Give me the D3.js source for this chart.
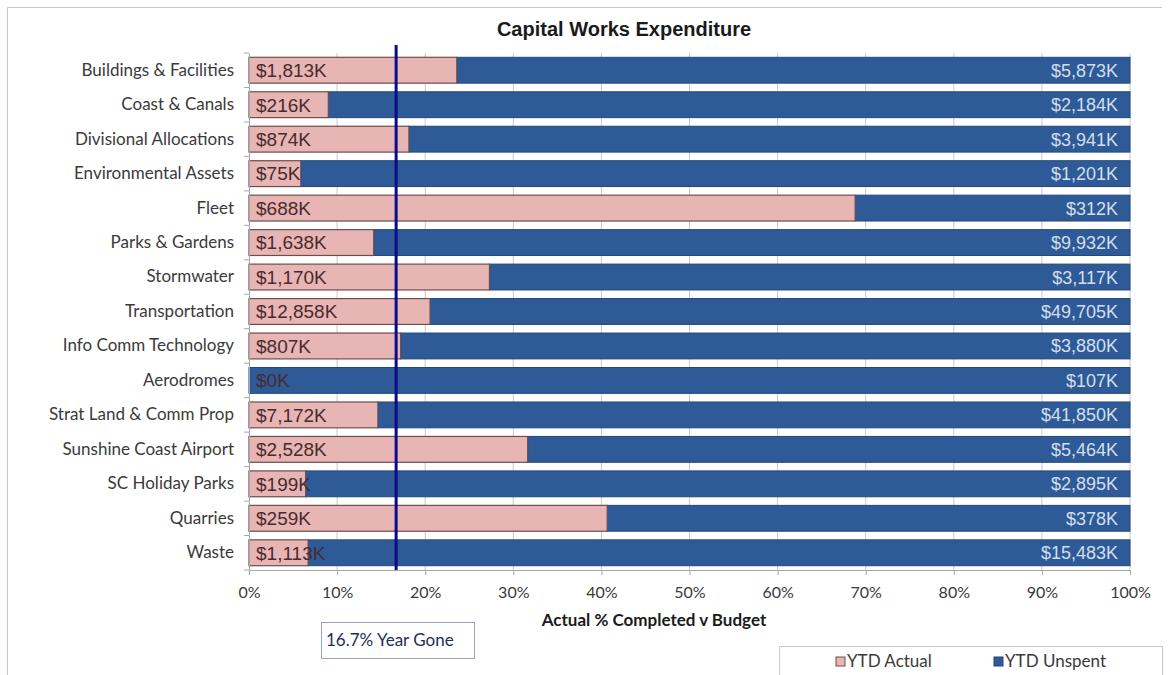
<!DOCTYPE html>
<html>
<head>
<meta charset="utf-8">
<script src="https://cdn.jsdelivr.net/npm/d3@7"></script>
<style>
  body { margin: 0; background: #fff; }
  svg { display: block; }
</style>
</head>
<body>
<div id="chart"></div>
<script>
// chart values (thousands of dollars)
var categories = ["Buildings & Facilities", "Coast & Canals", "Divisional Allocations",
  "Environmental Assets", "Fleet", "Parks & Gardens", "Stormwater", "Transportation",
  "Info Comm Technology", "Aerodromes", "Strat Land & Comm Prop", "Sunshine Coast Airport",
  "SC Holiday Parks", "Quarries", "Waste"];
var ytdActual = [1813, 216, 874, 75, 688, 1638, 1170, 12858, 807, 0, 7172, 2528, 199, 259, 1113];
var ytdUnspent = [5873, 2184, 3941, 1201, 312, 9932, 3117, 49705, 3880, 107, 41850, 5464, 2895, 378, 15483];
var xTicks = [0, 0.1, 0.2, 0.3, 0.4, 0.5, 0.6, 0.7, 0.8, 0.9, 1];
var yearGone = 0.167;

var data = categories.map(function(c, i) {
  var total = ytdActual[i] + ytdUnspent[i];
  return {name: c, actual: ytdActual[i], unspent: ytdUnspent[i], pct: ytdActual[i] / total};
});

var W = 1175, H = 675;
var margin = {top: 53, left: 249, right: 45, bottom: 105};
var width = W - margin.left - margin.right,
    height = H - margin.top - margin.bottom;

var labelFont = "Lato, 'Open Sans', sans-serif";
var barFont = "'Liberation Sans', Arial, sans-serif";

var svg = d3.select("#chart").append("svg")
    .attr("width", W)
    .attr("height", H);

// outer chart frame (cropped in the original)
svg.append("path")
    .attr("d", "M7.5," + H + " V7.5 H1162")
    .attr("fill", "none")
    .attr("stroke", "#c8c8c8");

svg.append("text")
    .attr("x", 624)
    .attr("y", 36)
    .attr("text-anchor", "middle")
    .style("font-family", barFont)
    .style("font-weight", "bold")
    .style("font-size", "20px")
    .attr("fill", "#1a1a1a")
    .text("Capital Works Expenditure");

var g = svg.append("g")
    .attr("transform", "translate(" + margin.left + "," + margin.top + ")");

var x = d3.scaleLinear().domain([0, 1]).range([0, width]);
var y = d3.scaleBand().domain(categories).range([0, height]).paddingInner(0.25).paddingOuter(0.125);

// gridlines
g.selectAll(".grid")
  .data(xTicks.slice(1))
  .enter()
  .append("line")
    .attr("x1", function(d) { return x(d); })
    .attr("x2", function(d) { return x(d); })
    .attr("y1", 0)
    .attr("y2", height)
    .attr("stroke", "#c9c9c9")
    .attr("stroke-width", 1);

// blue (unspent) bars, pink (actual) from zero
g.selectAll(".unspent")
  .data(data)
  .enter()
  .append("rect")
    .attr("x", function(d) { return x(d.pct); })
    .attr("y", function(d) { return y(d.name); })
    .attr("width", function(d) { return x(1) - x(d.pct); })
    .attr("height", y.bandwidth())
    .attr("fill", "#2e5b97")
    .attr("stroke", "#22477a")
    .attr("stroke-width", 1);

g.selectAll(".actual")
  .data(data)
  .enter()
  .append("rect")
    .attr("x", 0)
    .attr("y", function(d) { return y(d.name); })
    .attr("width", function(d) { return x(d.pct); })
    .attr("height", y.bandwidth())
    .attr("fill", "#e7b5b3")
    .attr("stroke", "#6e4d4b")
    .attr("stroke-width", 1.2);

var fmt = d3.format(",");

g.selectAll(".actLabel")
  .data(data)
  .enter()
  .append("text")
    .attr("x", 7)
    .attr("y", function(d) { return y(d.name) + y.bandwidth() / 2; })
    .attr("dy", "0.36em")
    .style("font-family", barFont)
    .style("font-size", "19px")
    .attr("fill", "#4a2a2e")
    .text(function(d) { return "$" + fmt(d.actual) + "K"; });

g.selectAll(".unsLabel")
  .data(data)
  .enter()
  .append("text")
    .attr("x", width - 12)
    .attr("y", function(d) { return y(d.name) + y.bandwidth() / 2; })
    .attr("dy", "0.36em")
    .attr("text-anchor", "end")
    .style("font-family", barFont)
    .style("font-size", "18px")
    .attr("fill", "#d3deed")
    .text(function(d) { return "$" + fmt(d.unspent) + "K"; });

// year gone line
g.append("line")
    .attr("x1", x(yearGone))
    .attr("x2", x(yearGone))
    .attr("y1", -8)
    .attr("y2", height)
    .attr("stroke", "#0b0b8a")
    .attr("stroke-width", 3);

// y axis
var yAxis = g.append("g")
    .call(d3.axisLeft(y).tickSize(0).tickPadding(15));
yAxis.select(".domain").attr("stroke", "#a8a8a8");
yAxis.selectAll("text")
    .style("font-family", labelFont)
    .style("font-size", "17px")
    .attr("fill", "#3a3a3a");

// category boundary ticks on the y axis
var bounds = d3.range(categories.length + 1).map(function(i) { return i * y.step(); });
g.selectAll(".ytick")
  .data(bounds)
  .enter()
  .append("line")
    .attr("x1", -5)
    .attr("x2", 0)
    .attr("y1", function(d) { return d; })
    .attr("y2", function(d) { return d; })
    .attr("stroke", "#a8a8a8");

// x axis
var xAxis = g.append("g")
    .attr("transform", "translate(0," + height + ")")
    .call(d3.axisBottom(x).tickValues(xTicks).tickFormat(d3.format(".0%")).tickSize(5).tickPadding(12));
xAxis.select(".domain").attr("stroke", "#a8a8a8");
xAxis.selectAll("line").attr("stroke", "#a8a8a8");
xAxis.selectAll("text")
    .style("font-family", labelFont)
    .style("font-size", "16px")
    .attr("fill", "#3a3a3a");

svg.append("text")
    .attr("x", 654)
    .attr("y", 626)
    .attr("text-anchor", "middle")
    .style("font-family", labelFont)
    .style("font-weight", "bold")
    .style("font-size", "17px")
    .attr("fill", "#1a1a1a")
    .text("Actual % Completed v Budget");

// year gone note box
svg.append("rect")
    .attr("x", 321.5)
    .attr("y", 622.5)
    .attr("width", 153)
    .attr("height", 36)
    .attr("fill", "#fff")
    .attr("stroke", "#9aa3bd");
svg.append("text")
    .attr("x", 326)
    .attr("y", 646)
    .style("font-family", labelFont)
    .style("font-size", "17px")
    .attr("fill", "#1f2d5a")
    .text((yearGone * 100).toFixed(1) + "% Year Gone");

// legend
svg.append("rect")
    .attr("x", 779.5)
    .attr("y", 646.5)
    .attr("width", 383)
    .attr("height", 40)
    .attr("fill", "#fff")
    .attr("stroke", "#c8c8c8");

var legend = [
  {label: "YTD Actual", fill: "#e7b5b3", stroke: "#6e4d4b", x: 836},
  {label: "YTD Unspent", fill: "#2e5b97", stroke: "#22477a", x: 994}
];
var lg = svg.selectAll(".legend")
  .data(legend)
  .enter()
  .append("g")
    .attr("transform", function(d) { return "translate(" + d.x + ",657)"; });
lg.append("rect")
    .attr("width", 9)
    .attr("height", 9)
    .attr("fill", function(d) { return d.fill; })
    .attr("stroke", function(d) { return d.stroke; });
lg.append("text")
    .attr("x", 11)
    .attr("y", 10)
    .style("font-family", labelFont)
    .style("font-size", "17px")
    .attr("fill", "#3a3a3a")
    .text(function(d) { return d.label; });
</script>
</body>
</html>
